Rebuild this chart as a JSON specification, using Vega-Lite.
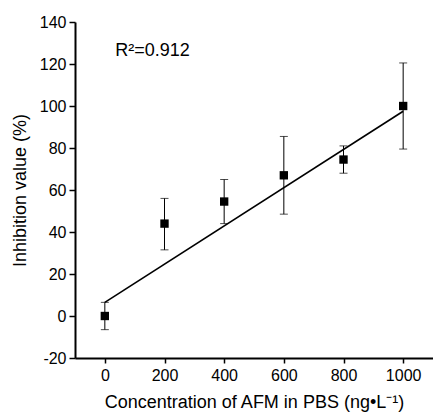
{
  "$schema": "https://vega.github.io/schema/vega-lite/v6.json",
  "width": 358,
  "height": 336,
  "autosize": "none",
  "padding": {"left": 75, "top": 22, "right": 0, "bottom": 56},
  "background": "white",
  "config": {
    "view": {"stroke": null},
    "font": "Liberation Sans",
    "axis": {"grid": false, "domainColor": "black", "domainWidth": 2, "tickColor": "black", "tickWidth": 1.5, "labelColor": "black", "titleColor": "black", "labelFont": "Liberation Sans", "titleFont": "Liberation Sans", "labelFontSize": 16, "titleFontSize": 18, "titleFontWeight": "normal"}
  },
  "datasets": {
    "pts": [
      {"c": 0, "v": 0, "lo": -6.5, "hi": 6.5},
      {"c": 200, "v": 44, "lo": 31.5, "hi": 56},
      {"c": 400, "v": 54.5, "lo": 44, "hi": 65},
      {"c": 600, "v": 67, "lo": 48.5, "hi": 85.5},
      {"c": 800, "v": 74.5, "lo": 68, "hi": 81},
      {"c": 1000, "v": 100, "lo": 79.5, "hi": 120.5}
    ],
    "fit": [
      {"c": 0, "v": 6.5},
      {"c": 1000, "v": 97.5}
    ],
    "note": [
      {"c": 35, "v": 126, "t": "R²=0.912"}
    ]
  },
  "layer": [
    {
      "data": {"name": "pts"},
      "mark": {"type": "errorbar", "ticks": {"size": 8, "color": "black", "strokeWidth": 1}, "rule": {"color": "black", "strokeWidth": 1}},
      "encoding": {
        "x": {"field": "c", "type": "quantitative", "scale": {"domain": [-100, 1100], "nice": false}, "axis": {"orient": "bottom", "values": [0, 100, 200, 300, 400, 500, 600, 700, 800, 900, 1000], "format": "d", "labelExpr": "datum.value % 200 === 0 ? datum.label : ''", "labelFlush": false, "tickSize": 5, "labelPadding": 4, "title": "Concentration of AFM in PBS (ng•L⁻¹)", "titlePadding": 10}},
        "y": {"field": "lo", "type": "quantitative", "scale": {"domain": [-20, 140], "nice": false}, "axis": {"orient": "left", "values": [-20, -10, 0, 10, 20, 30, 40, 50, 60, 70, 80, 90, 100, 110, 120, 130, 140], "labelExpr": "datum.value % 20 === 0 ? '' + datum.value : ''", "labelOverlap": false, "tickSize": {"condition": {"test": "datum.value % 20 === 0", "value": 6}, "value": 4}, "labelPadding": 3, "title": "Inhibition value (%)", "titlePadding": 10}},
        "y2": {"field": "hi"}
      }
    },
    {
      "data": {"name": "pts"},
      "mark": {"type": "point", "shape": "square", "filled": true, "color": "black", "size": 70, "opacity": 1},
      "encoding": {
        "x": {"field": "c", "type": "quantitative"},
        "y": {"field": "v", "type": "quantitative"}
      }
    },
    {
      "data": {"name": "fit"},
      "mark": {"type": "line", "color": "black", "strokeWidth": 1.6},
      "encoding": {
        "x": {"field": "c", "type": "quantitative"},
        "y": {"field": "v", "type": "quantitative"}
      }
    },
    {
      "data": {"name": "note"},
      "mark": {"type": "text", "align": "left", "baseline": "middle", "fontSize": 18, "color": "black", "font": "Liberation Sans"},
      "encoding": {
        "x": {"field": "c", "type": "quantitative"},
        "y": {"field": "v", "type": "quantitative"},
        "text": {"field": "t"}
      }
    }
  ]
}
